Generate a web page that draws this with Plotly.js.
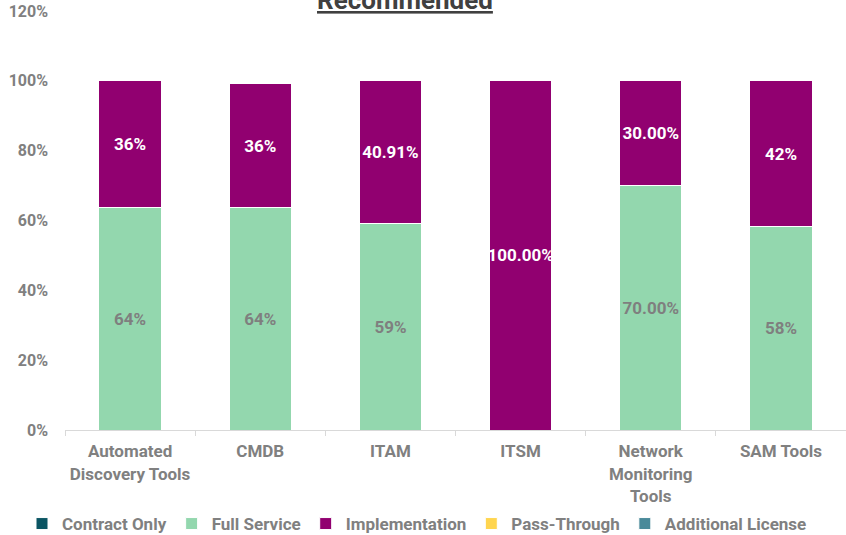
<!DOCTYPE html>
<html><head><meta charset="utf-8">
<script src="https://cdn.plot.ly/plotly-3.0.1.min.js"></script>
<style>html,body{margin:0;padding:0;background:#fff}#c{width:846px;height:535px}</style>
</head><body><div id="c"></div>
<script>
const categories = ["Automated<br>Discovery Tools","CMDB","ITAM","ITSM","Network<br>Monitoring<br>Tools","SAM Tools"];
const contractOnly = [0,0,0,0,0,0];
const fullService = [0.636,0.636,0.5909,0,0.70,0.5833];
const implementation = [0.364,0.357,0.4091,1.0,0.30,0.4167];
const passThrough = [0,0,0,0,0,0];
const additionalLicense = [0,0,0,0,0,0];
const fullLabels = ["64%","64%","59%","","70.00%","58%"];
const implLabels = ["36%","36%","40.91%","100.00%","30.00%","42%"];
const yTickVals = [0,0.2,0.4,0.6,0.8,1.0,1.2];
const yTickText = ["0%","20%","40%","60%","80%","100%","120%"];

const grey = "#808080";
const font = "Roboto, 'Noto Sans', sans-serif";
function tr(name, y, color, text, tcolor){
  return {type:"bar", name:name, x:categories, y:y, width:0.48,
    marker:{color:color, line:{color:"#ffffff", width:1}},
    text:text||null, textposition:"inside", insidetextanchor:"middle",
    textangle:0, constraintext:"none",
    textfont:{family:font, size:17, color:tcolor||grey, weight:"bold"},
    hoverinfo:"none", cliponaxis:false};
}
const data = [
  tr("Contract Only", contractOnly, "#0b5563"),
  tr("Full Service", fullService, "#93d7ae", fullLabels, "#7f7f7f"),
  tr("Implementation", implementation, "#910070", implLabels, "#ffffff"),
  tr("Pass-Through", passThrough, "#ffd54f"),
  tr("Additional License", additionalLicense, "#4a8a9a")
];
const layout = {
  width:846, height:535, barmode:"stack",
  margin:{l:65, r:0, t:11, b:105, autoexpand:false},
  paper_bgcolor:"#fff", plot_bgcolor:"#fff",
  font:{family:font, color:grey},
  xaxis:{showgrid:false, showline:true, linecolor:"#d9d9d9", linewidth:1,
    ticks:"outside", tickson:"boundaries", ticklen:5, tickcolor:"#d9d9d9",
    tickangle:0, automargin:false, ticklabelstandoff:6,
    tickfont:{family:font, size:17, color:grey, weight:"bold"}, fixedrange:true},
  yaxis:{range:[0,1.2], tickvals:yTickVals, ticktext:yTickText, showgrid:false,
    zeroline:false, showline:false, ticks:"", ticklabelstandoff:16, automargin:false,
    tickfont:{family:font, size:16, color:grey, weight:"bold"}},
  showlegend:true,
  legend:{orientation:"h", xref:"paper", yref:"paper", x:(22-65)/781, y:(430-524)/419,
    xanchor:"left", yanchor:"middle", traceorder:"normal",
    font:{family:font, size:17, color:grey, weight:"bold"}, itemwidth:30},
  annotations:[{text:"<u>Recommended</u>", xref:"paper", yref:"paper", x:(405-65)/781, y:1.026,
    xanchor:"center", yanchor:"middle", showarrow:false,
    font:{family:font, size:26, color:"#404040", weight:"bold"}}]
};
Plotly.newPlot("c", data, layout, {displayModeBar:false, staticPlot:true});
</script></body></html>
